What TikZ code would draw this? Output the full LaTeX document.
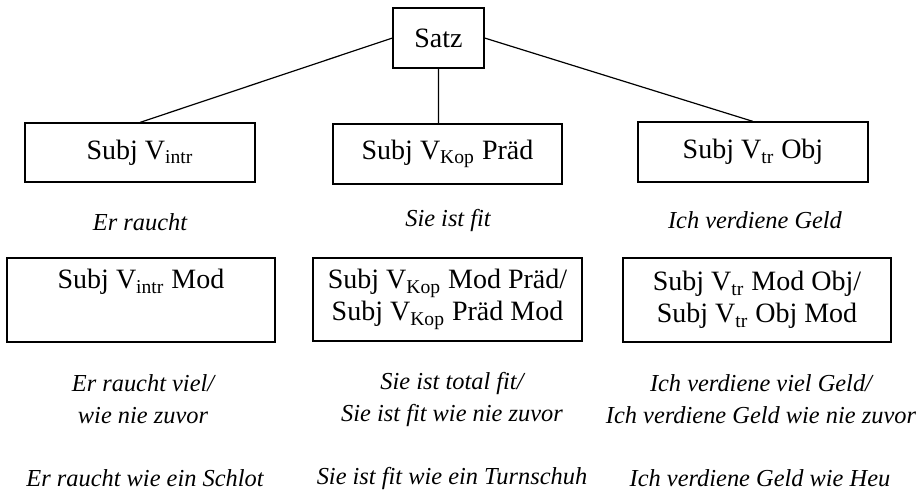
\documentclass[tikz,border=0pt]{standalone}
\usepackage{fontspec}
\setmainfont{Liberation Serif}
\begin{document}
\begin{tikzpicture}[x=0.5pt,y=-0.5pt,
   box/.style={draw,line width=0.6pt,inner sep=0pt,align=center,
      font=\fontsize{14}{16}\selectfont},
   ex/.style={align=center,font=\fontsize{12.2}{16}\selectfont\itshape}]
   \useasboundingbox (0,0) rectangle (916,495);
   \node[box,minimum width=45.5pt,minimum height=30pt] (satz) at (438.5,38) {Satz};

   \node[box,minimum width=115pt,minimum height=29.5pt] (intr) at (140,152.5)
      {Subj V\textsubscript{intr}};
   \node[box,minimum width=114.5pt,minimum height=30pt] (kop) at (447.5,154)
      {Subj V\textsubscript{Kop} Präd};
   \node[box,minimum width=115pt,minimum height=30pt] (tr) at (753,152)
      {Subj V\textsubscript{tr} Obj};
   \draw[line width=0.6pt] (satz.west) -- (intr.north)
      (satz.south) -- (satz.south |- kop.north)
      (satz.east) -- (tr.north);

   \node[ex] (intrA) at (140,222) {Er raucht};
   \node[ex] (kopA) at (448,220) {Sie ist fit};
   \node[ex] (trA) at (755,220) {Ich verdiene Geld};

   \node[box,minimum width=134pt,minimum height=42pt] (intrmod) at (141,300)
      {Subj V\textsubscript{intr} Mod\\ \strut};
   \node[box,minimum width=134.5pt,minimum height=41.5pt] (kopmod) at (447.5,299.5)
      {Subj V\textsubscript{Kop} Mod Präd/\\Subj V\textsubscript{Kop} Präd Mod};
   \node[box,minimum width=134pt,minimum height=42pt] (trmod) at (757,300)
      {Subj V\textsubscript{tr} Mod Obj/\\Subj V\textsubscript{tr} Obj Mod};

   \node[ex] (intrB) at (143,399) {Er raucht viel/\\wie nie zuvor};
   \node[ex] (kopB) at (452,399) {Sie ist total fit/\\Sie ist fit wie nie zuvor};
   \node[ex] (trB) at (761,399) {Ich verdiene viel Geld/\\Ich verdiene Geld wie nie zuvor};

   \node[ex] (intrC) at (145,478) {Er raucht wie ein Schlot};
   \node[ex] (kopC) at (452,478) {Sie ist fit wie ein Turnschuh};
   \node[ex] (trC) at (760,478) {Ich verdiene Geld wie Heu};
\end{tikzpicture}
\end{document}
